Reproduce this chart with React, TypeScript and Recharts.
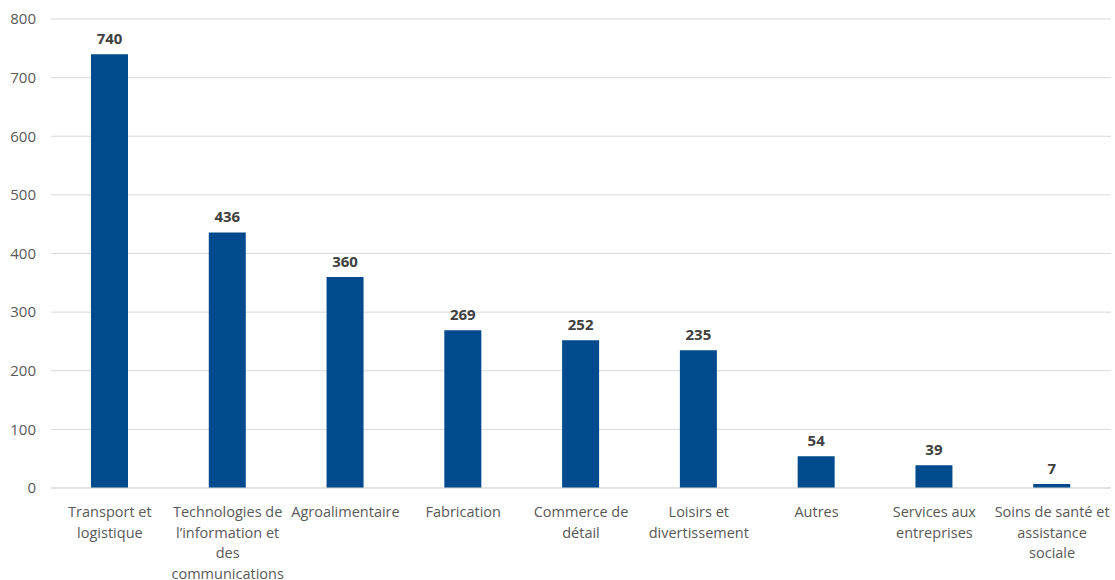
import React from "react";
import { BarChart, Bar, XAxis, YAxis, CartesianGrid, LabelList } from "recharts";

const categories = [
  "Transport et\nlogistique",
  "Technologies de\nl’information et\ndes\ncommunications",
  "Agroalimentaire",
  "Fabrication",
  "Commerce de\ndétail",
  "Loisirs et\ndivertissement",
  "Autres",
  "Services aux\nentreprises",
  "Soins de santé et\nassistance\nsociale",
];
const values = [740, 436, 360, 269, 252, 235, 54, 39, 7];
const yTicks = [0, 100, 200, 300, 400, 500, 600, 700, 800];

const data = categories.map((c, i) => ({ name: c, value: values[i] }));

const FONT = "'Open Sans', 'Liberation Sans', sans-serif";

const CatTick = (props: any) => {
  const { x, y, payload } = props;
  const lines = String(payload.value).split("\n");
  return (
    <g transform={`translate(${x},${y})`}>
      {lines.map((l, i) => (
        <text
          key={i}
          x={0}
          y={21 + i * 20.6}
          textAnchor="middle"
          fill="#595959"
          fontSize={14.5}
          fontFamily={FONT}
        >
          {l}
        </text>
      ))}
    </g>
  );
};

export default function App() {
  return (
    <div style={{ position: "fixed", left: 0, top: 0, width: 1115, height: 580, background: "#fff" }}>
      <BarChart
        width={1115}
        height={580}
        data={data}
        margin={{ top: 19, right: 4, left: 0, bottom: 0 }}
        barCategoryGap={0}
      >
        <CartesianGrid vertical={false} stroke="#d9d9d9" strokeWidth={1} />
        <XAxis
          dataKey="name"
          interval={0}
          tickLine={false}
          axisLine={{ stroke: "#d9d9d9" }}
          tick={<CatTick />}
          height={92}
        />
        <YAxis
          domain={[0, 800]}
          ticks={yTicks}
          width={51}
          axisLine={false}
          tickLine={false}
          tickMargin={9}
          tick={{ fill: "#595959", fontSize: 15, fontFamily: FONT }}
        />
        <Bar dataKey="value" fill="#004A8D" barSize={37} isAnimationActive={false}>
          <LabelList
            dataKey="value"
            position="top"
            offset={10}
            fill="#404040"
            fontSize={15}
            fontWeight="bold"
            fontFamily={FONT}
          />
        </Bar>
      </BarChart>
    </div>
  );
}
